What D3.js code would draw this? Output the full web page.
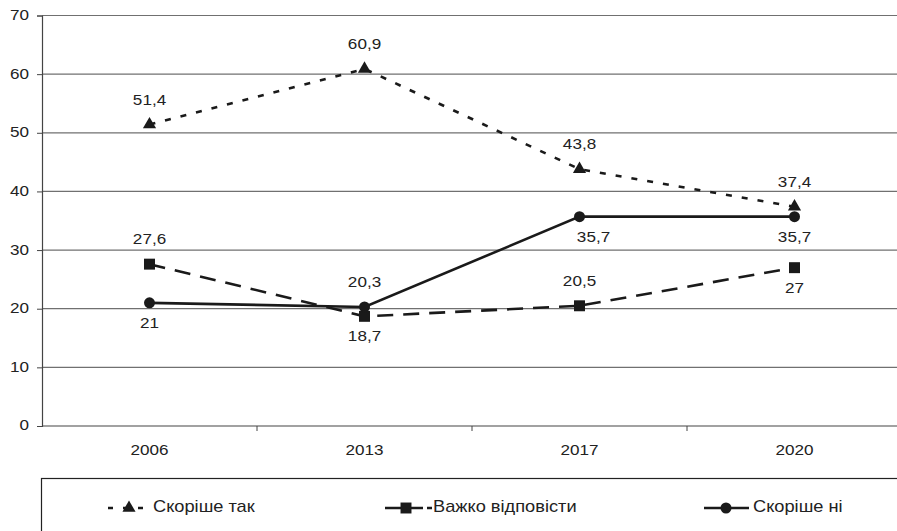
<!DOCTYPE html>
<html>
<head>
<meta charset="utf-8">
<script src="https://cdn.jsdelivr.net/npm/d3@7"></script>
<style>
  html, body { margin: 0; padding: 0; background: #fff; }
  svg { display: block; font-family: "Liberation Sans", Arial, sans-serif; }
</style>
</head>
<body>
<svg id="chart" width="897" height="531"></svg>
<script>
const YEARS = ["2006", "2013", "2017", "2020"];
const Y_TICKS = [0, 10, 20, 30, 40, 50, 60, 70];
const SERIES_NAMES = ["Скоріше так", "Важко відповісти", "Скоріше ні"];
const yesValues = [51.4, 60.9, 43.8, 37.4];
const hardValues = [27.6, 18.7, 20.5, 27];
const noValues = [21, 20.3, 35.7, 35.7];
// label placement: above (-1) or below (+1) the point, plus small x shift
const yesLabelSide = [-1, -1, -1, -1];
const hardLabelSide = [-1, 1, -1, 1];
const noLabelSide = [1, -1, 1, 1];
const noLabelShift = [0, 0, 14, 0];

const svg = d3.select("#chart");
const fmt = v => String(v).replace(".", ",");
const SX = 1.14; // the source text is a bit wider than Liberation Sans

const x = d3.scaleBand().domain(YEARS).range([42, 902]);
const y = d3.scaleLinear().domain([0, 70]).range([426, 15.5]);
const cx = d => x(d) + x.bandwidth() / 2;

// writes a text at (px,py), stretched horizontally around its anchor
function stretchedText(sel, px, py) {
  return sel.attr("x", 0).attr("y", 0)
    .attr("transform", (d, i) => `translate(${px(d, i)},${py(d, i)}) scale(${SX},1)`);
}

// grid
svg.append("g").selectAll("line").data(Y_TICKS.slice(1)).join("line")
  .attr("x1", 42).attr("x2", 897)
  .attr("y1", d => y(d)).attr("y2", d => y(d))
  .attr("stroke", "#707070").attr("stroke-width", 1.2);

// axes
const gy = svg.append("g").attr("transform", "translate(42,0)")
  .call(d3.axisLeft(y).tickValues(Y_TICKS).tickSize(5));
const gx = svg.append("g").attr("transform", `translate(0,${y(0)})`)
  .call(d3.axisBottom(x).tickSize(0));
gx.select(".domain").remove();
svg.append("line").attr("x1", 42).attr("x2", 897).attr("y1", y(0)).attr("y2", y(0))
  .attr("stroke", "#444").attr("stroke-width", 1.2);
// category separators
svg.append("g").selectAll("line").data(YEARS.slice(1)).join("line")
  .attr("x1", d => x(d)).attr("x2", d => x(d))
  .attr("y1", y(0)).attr("y2", y(0) + 5)
  .attr("stroke", "#444");

[gx, gy].forEach(g => {
  g.selectAll("text").attr("font-size", 15).attr("fill", "#222")
    .attr("font-family", "Liberation Sans, Arial, sans-serif")
    .attr("dy", null).attr("dominant-baseline", "middle");
  g.selectAll("line").attr("stroke", "#444");
});
stretchedText(gx.selectAll("text"), () => 0, () => 25);
stretchedText(gy.selectAll("text"), () => -13, () => 0);
gy.select(".domain").attr("stroke", "#444").attr("stroke-width", 1.2);

const line = d3.line().x((d, i) => cx(YEARS[i])).y(d => y(d));

function drawSeries(values, dash, marker, sides, shifts) {
  const g = svg.append("g");
  g.append("path").datum(values).attr("d", line)
    .attr("fill", "none").attr("stroke", "#1a1a1a").attr("stroke-width", 2.6)
    .attr("stroke-dasharray", dash);
  g.selectAll(".m").data(values).join("path").attr("class", "m")
    .attr("transform", (d, i) => `translate(${cx(YEARS[i])},${y(d)})`)
    .attr("d", marker).attr("fill", "#1a1a1a");
  const t = g.selectAll(".lbl").data(values).join("text").attr("class", "lbl")
    .attr("text-anchor", "middle").attr("dominant-baseline", "middle")
    .attr("font-size", 15).attr("fill", "#222")
    .text(d => fmt(d));
  stretchedText(t,
    (d, i) => cx(YEARS[i]) + (shifts ? shifts[i] : 0),
    (d, i) => y(d) + (sides[i] < 0 ? -24 : 21));
}

const triSym = d3.symbol().type(d3.symbolTriangle).size(75)();
const sqSym = d3.symbol().type(d3.symbolSquare).size(120)();
const circSym = d3.symbol().type(d3.symbolCircle).size(95)();

drawSeries(hardValues, "16,10", sqSym, hardLabelSide);
drawSeries(noValues, null, circSym, noLabelSide, noLabelShift);
drawSeries(yesValues, "6,10", triSym, yesLabelSide);

// legend
svg.append("rect").attr("x", 41.5).attr("y", 478.5).attr("width", 870).attr("height", 80)
  .attr("fill", "none").attr("stroke", "#222").attr("stroke-width", 1.2);

const legendItems = [
  { name: SERIES_NAMES[0], x0: 108, x1: 145, mx: 129, dash: "5,10", sym: triSym, tx: 153 },
  { name: SERIES_NAMES[1], x0: 385, x1: 432, mx: 406, dash: "17,4", sym: sqSym, tx: 433 },
  { name: SERIES_NAMES[2], x0: 704, x1: 749, mx: 726, dash: null, sym: circSym, tx: 753 }
];
const ly = 508;
const lg = svg.append("g").selectAll("g").data(legendItems).join("g");
lg.append("line").attr("x1", d => d.x0).attr("x2", d => d.x1).attr("y1", ly).attr("y2", ly)
  .attr("stroke", "#1a1a1a").attr("stroke-width", 2.6).attr("stroke-dasharray", d => d.dash);
lg.append("path").attr("transform", d => `translate(${d.mx},${ly})`).attr("d", d => d.sym).attr("fill", "#1a1a1a");
stretchedText(
  lg.append("text").attr("dominant-baseline", "middle")
    .attr("font-size", 16).attr("fill", "#222").text(d => d.name),
  d => d.tx, () => ly);
</script>
</body>
</html>
